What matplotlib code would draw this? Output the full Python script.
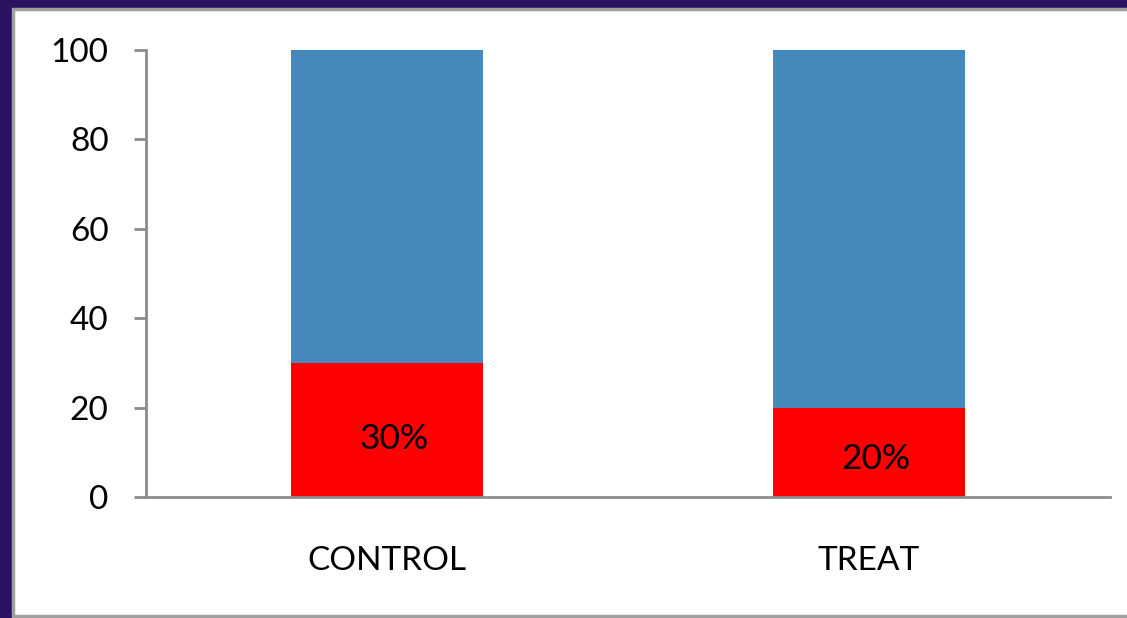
import matplotlib
matplotlib.use("Agg")
import matplotlib.pyplot as plt
from matplotlib.patches import Rectangle

# data
groups = ["CONTROL", "TREAT"]
event_pct = [30, 20]
rest_pct = [70, 80]
labels = ["30%", "20%"]

blue = "#4588bb"
red = "#ff0000"
axis_gray = "#8c8c8c"

plt.rcParams["font.family"] = ["Lato", "DejaVu Sans"]

fig = plt.figure(figsize=(11.27, 6.18), dpi=100, facecolor="#2a1260")
# white slide panel inside the purple frame
fig.patches.append(Rectangle((13 / 1127, 2 / 618), 1.0, 607 / 618,
                             transform=fig.transFigure, facecolor="white",
                             edgecolor="#a0a0a0", linewidth=2.5, zorder=-5))

ax = fig.add_axes([146 / 1127, 121 / 618, 964 / 1127, 447 / 618])
ax.set_facecolor("none")

x = range(len(groups))
ax.bar(x, event_pct, width=0.4, color=red, zorder=2)
ax.bar(x, rest_pct, width=0.4, bottom=event_pct, color=blue, zorder=2)

for i, (v, txt) in enumerate(zip(event_pct, labels)):
    ax.text(i + 0.015, v * 0.43, txt, ha="center", va="center",
            fontsize=25.5, color="black", zorder=3)

ax.set_xlim(-0.5, 1.5)
ax.set_ylim(0, 100)
ax.set_yticks([0, 20, 40, 60, 80, 100])
ax.set_xticks(list(x))
ax.set_xticklabels(groups)

for side in ["top", "right"]:
    ax.spines[side].set_visible(False)
for side in ["left", "bottom"]:
    ax.spines[side].set_color(axis_gray)
    ax.spines[side].set_linewidth(2)

ax.tick_params(axis="y", length=9, width=2, color=axis_gray, pad=18,
               labelsize=24)
ax.tick_params(axis="x", length=0, pad=35, labelsize=24)

fig.savefig("out.png", dpi=100, facecolor=fig.get_facecolor())
